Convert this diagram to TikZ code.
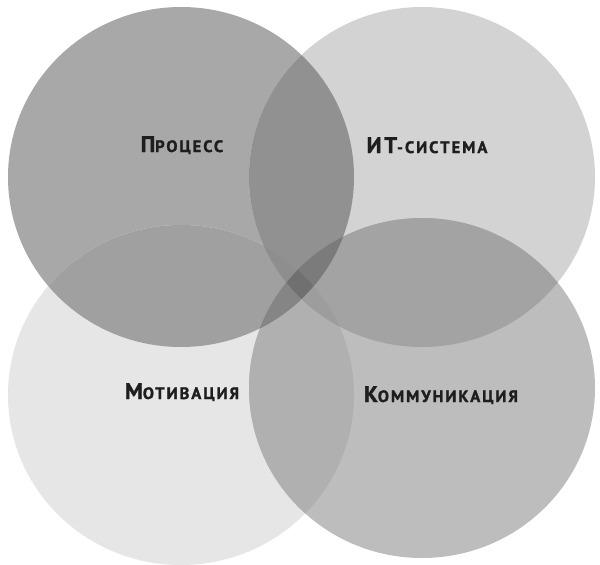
\documentclass[tikz,border=0pt]{standalone}
\usepackage{fontspec}
\setmainfont{PT Sans}
\newfontfamily\lblfont[LetterSpace=12, BoldFeatures={FakeBold=1.6}]{PT Sans}
\definecolor{cA}{HTML}{A8A8A8}% top-left
\definecolor{cB}{HTML}{D3D3D3}% top-right
\definecolor{cC}{HTML}{E6E6E6}% bottom-left
\definecolor{cD}{HTML}{BDBDBD}% bottom-right
\definecolor{cAB}{HTML}{919191}
\definecolor{cAC}{HTML}{A0A0A0}
\definecolor{cBD}{HTML}{A3A3A3}
\definecolor{cCD}{HTML}{B0B0B0}
\definecolor{cAD}{HTML}{858585}
\definecolor{cBC}{HTML}{9D9D9D}
\definecolor{cABD}{HTML}{7B7B7B}
\definecolor{cACD}{HTML}{858585}
\definecolor{cABC}{HTML}{8E8E8E}
\definecolor{cBCD}{HTML}{9D9D9D}
\definecolor{cABCD}{HTML}{707070}
\definecolor{txt}{HTML}{1E1E1E}
\def\pA{(181,177) ellipse [x radius=173, y radius=170]}
\def\pB{(422,177) ellipse [x radius=173, y radius=170]}
\def\pC{(181,395) ellipse [x radius=173, y radius=170]}
\def\pD{(422,388) ellipse [x radius=173, y radius=170]}
\newcommand\smcp[2]{{\fontsize{22.5}{22.5}\selectfont #1}{\fontsize{16.5}{16.5}\selectfont #2}}
\tikzset{lbl/.style={anchor=base, inner sep=0pt, text=txt, font=\lblfont\bfseries}}
\begin{document}
\begin{tikzpicture}[x=1pt, y=-1pt]
\useasboundingbox (0,0) rectangle (600,565);
\fill[white] (0,0) rectangle (600,565);
% single circles
\fill[cA] \pA;
\fill[cB] \pB;
\fill[cC] \pC;
\fill[cD] \pD;
% pairs
\begin{scope}\clip \pA; \fill[cAB] \pB; \end{scope}
\begin{scope}\clip \pA; \fill[cAC] \pC; \end{scope}
\begin{scope}\clip \pB; \fill[cBD] \pD; \end{scope}
\begin{scope}\clip \pC; \fill[cCD] \pD; \end{scope}
\begin{scope}\clip \pA; \fill[cAD] \pD; \end{scope}
\begin{scope}\clip \pB; \fill[cBC] \pC; \end{scope}
% triples
\begin{scope}\clip \pA; \clip \pB; \fill[cABD] \pD; \end{scope}
\begin{scope}\clip \pA; \clip \pC; \fill[cACD] \pD; \end{scope}
\begin{scope}\clip \pA; \clip \pB; \fill[cABC] \pC; \end{scope}
\begin{scope}\clip \pB; \clip \pC; \fill[cBCD] \pD; \end{scope}
% all four
\begin{scope}\clip \pA; \clip \pB; \clip \pC; \fill[cABCD] \pD; \end{scope}
% labels
\node[lbl] (process) at (182,152) {\smcp{П}{РОЦЕСС}};
\node[lbl] (itsys) at (427,153) {\smcp{ИТ}{-СИСТЕМА}};
\node[lbl] (motiv) at (182,399) {\smcp{М}{ОТИВАЦИЯ}};
\node[lbl] (komm) at (441,402) {\smcp{К}{ОММУНИКАЦИЯ}};
\end{tikzpicture}
\end{document}
